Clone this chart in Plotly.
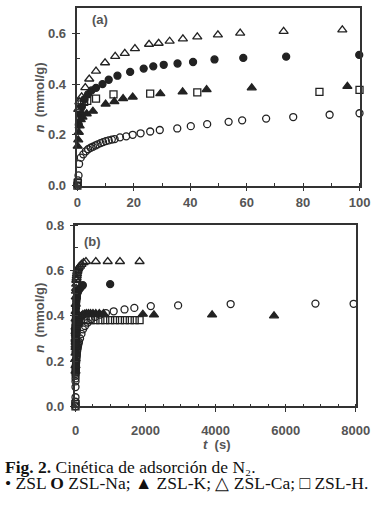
import plotly.graph_objects as go

# ---------------- data (t in s, n in mmol/g) ----------------
zsl_t = [0.5, 1.0, 1.5, 2.5, 3.8, 5.0, 6.6, 8.9, 11.1, 14.2, 18.7, 23.5, 26.9, 30.6, 35.5, 41.0,
         48.6, 58.8, 74.0, 99.9, 150, 210, 990]
zsl_n = [0.24, 0.28, 0.31, 0.34, 0.36, 0.375, 0.385, 0.400, 0.417, 0.433, 0.448, 0.461, 0.470, 0.476,
         0.481, 0.487, 0.497, 0.503, 0.508, 0.515, 0.525, 0.535, 0.540]

na_t = [0.0, 0.2, 0.4, 0.6, 1.2, 2.1, 3.0, 3.8, 4.7, 5.5, 6.4, 7.2, 8.2, 9.1, 10.1, 11.1, 12.2, 13.2,
        15.1, 17.3, 19.6, 22.4, 25.8, 29.2, 35.4, 40.2, 46.0, 53.6, 58.4, 66.9, 76.5, 89.4, 100.0,
        130, 170, 215, 270, 350, 450, 560, 700, 870, 1090, 1400, 1680, 2150, 2930, 4430, 6850, 7940]
na_n = [0.0, 0.02, 0.04, 0.085, 0.11, 0.123, 0.135, 0.143, 0.149, 0.153, 0.158, 0.162, 0.167, 0.171,
        0.175, 0.178, 0.181, 0.183, 0.190, 0.194, 0.200, 0.206, 0.213, 0.219, 0.225, 0.234, 0.242,
        0.251, 0.257, 0.264, 0.270, 0.279, 0.285,
        0.300, 0.320, 0.340, 0.355, 0.370, 0.385, 0.395, 0.405, 0.412, 0.420, 0.428, 0.435, 0.443,
        0.446, 0.452, 0.454, 0.453]

k_t = [0.1, 0.3, 0.5, 0.8, 1.2, 1.8, 3.3, 5.5, 10.0, 13.1, 16.2, 19.6, 29.4, 37.3, 45.8, 61.8, 95.7,
       130, 170, 210, 260, 310, 370, 430, 500, 580, 680, 800, 1923, 2240, 3900, 5668]
k_n = [0.155, 0.18, 0.21, 0.235, 0.26, 0.27, 0.283, 0.293, 0.321, 0.331, 0.343, 0.349, 0.362, 0.369,
       0.378, 0.385, 0.391,
       0.395, 0.400, 0.405, 0.408, 0.410, 0.410, 0.410, 0.410, 0.410, 0.410, 0.410, 0.407, 0.404,
       0.404, 0.400]

ca_t = [0.3, 0.7, 1.5, 2.8, 4.2, 6.6, 9.8, 13.4, 16.8, 20.4, 25.4, 28.8, 32.7, 37.4, 42.5, 49.8, 57.7,
        73.1, 93.9, 130, 170, 230, 299, 580, 920, 1270, 1830]
ca_n = [0.30, 0.33, 0.35, 0.386, 0.42, 0.451, 0.484, 0.509, 0.521, 0.540, 0.557, 0.561, 0.569, 0.578,
        0.586, 0.594, 0.601, 0.608, 0.614, 0.620, 0.628, 0.635, 0.640, 0.640, 0.640, 0.640, 0.640]

h_t = [0.0, 0.1, 0.7, 1.0, 1.5, 2.4, 3.5, 6.6, 12.8, 25.8, 42.5, 85.8, 100.0,
       150, 290, 430, 570, 710, 850, 990, 1130, 1270, 1410, 1550, 1690, 1830]
h_n = [0.0, 0.01, 0.27, 0.30, 0.32, 0.33, 0.334, 0.343, 0.359, 0.362, 0.367, 0.369, 0.377,
       0.380, 0.381, 0.381, 0.381, 0.381, 0.381, 0.381, 0.381, 0.381, 0.381, 0.381, 0.381, 0.381]

series = [
    ("ZSL", zsl_t, zsl_n, "circle", 7),
    ("ZSL-Na", na_t, na_n, "circle-open", 7),
    ("ZSL-K", k_t, k_n, "triangle-up", 8),
    ("ZSL-Ca", ca_t, ca_n, "triangle-up-open", 8),
    ("ZSL-H", h_t, h_n, "square-open", 7),
]

panel_a_tmax = 100
col = "#222222"

fig = go.Figure()
for name, t, n, sym, sz in series:
    ta = [x for x in t if x <= panel_a_tmax]
    na = [y for x, y in zip(t, n) if x <= panel_a_tmax]
    mk = dict(symbol=sym, size=sz, color=col, line=dict(color=col, width=1.3))
    fig.add_trace(go.Scatter(x=ta, y=na, mode="markers", marker=mk, name=name,
                             xaxis="x", yaxis="y", cliponaxis=False, showlegend=False))
    fig.add_trace(go.Scatter(x=t, y=n, mode="markers", marker=mk, name=name,
                             xaxis="x2", yaxis="y2", cliponaxis=False, showlegend=False))

tick_font = dict(family="Liberation Sans, Arial", size=13, color="#555555", weight="bold")
line_col = "#333333"

common = dict(showline=True, mirror=True, linecolor=line_col, linewidth=1.5, showgrid=False,
              zeroline=False, ticks="outside", ticklen=4, tickwidth=1.3, tickcolor=line_col,
              tickfont=tick_font)

fig.update_layout(
    width=384, height=505,
    margin=dict(l=0, r=0, t=0, b=0),
    paper_bgcolor="white", plot_bgcolor="white",
    xaxis=dict(domain=[77/384, 373/384], range=[0, 100], tickvals=[0, 20, 40, 60, 80, 100],
               minor=dict(dtick=10, ticks="inside", ticklen=3, tickcolor=line_col),
               anchor="y", ticklabelstandoff=0, **common),
    yaxis=dict(domain=[1-184/505, 1-1/505], range=[0, 0.7], tickvals=[0, 0.2, 0.4, 0.6],
               tickformat=".1f", minor=dict(dtick=0.1, ticks="inside", ticklen=3, tickcolor=line_col),
               anchor="x", ticklabelstandoff=3, **common),
    xaxis2=dict(domain=[75/384, 369/384], range=[0, 8000], tickvals=[0, 2000, 4000, 6000, 8000],
                minor=dict(dtick=500, ticks="inside", ticklen=3, tickcolor=line_col),
                anchor="y2", ticklabelstandoff=7, **common),
    yaxis2=dict(domain=[1-411.5/505, 1-225/505], range=[0, 0.8],
                tickvals=[0, 0.2, 0.4, 0.6, 0.8], tickformat=".1f",
                minor=dict(dtick=0.1, ticks="inside", ticklen=3, tickcolor=line_col),
                anchor="x2", ticklabelstandoff=3, **common),
)

lab_font = dict(family="Liberation Sans, Arial", size=13, color="#555555", weight="bold")
cap_font = dict(family="Liberation Serif, Times New Roman", size=17.5, color="#111111")
ann = [
    dict(text="(a)", x=8, y=0.655, xref="x", yref="y", showarrow=False, font=lab_font),
    dict(text="(b)", x=500, y=0.727, xref="x2", yref="y2", showarrow=False, font=lab_font),
    dict(text="<i>n</i>  (mmol/g)", x=37/384, y=1-93/505, xref="paper", yref="paper",
         xanchor="center", yanchor="middle", textangle=-90, showarrow=False, font=lab_font),
    dict(text="<i>n</i>  (mmol/g)", x=37/384, y=1-320/505, xref="paper", yref="paper",
         xanchor="center", yanchor="middle", textangle=-90, showarrow=False, font=lab_font),
    dict(text="<i>t</i>  (s)", x=223/384, y=1-451/505, xref="paper", yref="paper",
         xanchor="center", yanchor="middle", showarrow=False, font=lab_font),
    dict(text="<b>Fig. 2.</b> Cinética de adsorción de N₂.", x=0, y=1-474/505,
         xref="paper", yref="paper", xanchor="left", yanchor="middle", showarrow=False,
         font=cap_font, borderpad=0),
    dict(text="• ZSL <b>O</b> ZSL-Na; ▲ ZSL-K; △ ZSL-Ca; <b>□</b> ZSL-H.", x=0, y=1-491/505,
         xref="paper", yref="paper", xanchor="left", yanchor="middle", showarrow=False,
         font=cap_font, borderpad=0),
]
fig.update_layout(annotations=ann)

fig.write_html("out.html", post_script="document.body.style.margin='0';",
               config={"displayModeBar": False})
